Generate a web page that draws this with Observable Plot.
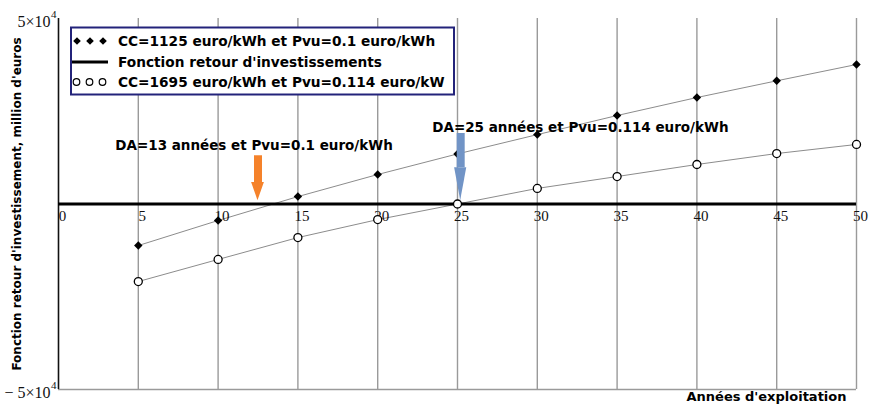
<!DOCTYPE html>
<html><head><meta charset="utf-8">
<script src="https://cdn.jsdelivr.net/npm/d3@7"></script>
<script src="https://cdn.jsdelivr.net/npm/@observablehq/plot@0.6"></script>
<style>body{margin:0;background:#fff;}</style>
</head><body><div id="chart"></div>
<script>
// ---- data ----
const years = [5, 10, 15, 20, 25, 30, 35, 40, 45, 50];
const series1 = [-11200, -4450, 2000, 7950, 13500, 18700, 23850, 28700, 33200, 37600];
const series2 = [-20900, -14950, -9050, -4200, 0, 4200, 7400, 10650, 13600, 16050];
const legendLabels = [
  "CC=1125 euro/kWh et Pvu=0.1 euro/kWh",
  "Fonction retour d'investissements",
  "CC=1695 euro/kWh et Pvu=0.114 euro/kW"
];
const xTicks = [0, 5, 10, 15, 20, 25, 30, 35, 40, 45, 50];
const yTicks = [-50000, 50000];
const yTickLabels = ["\u2212 5\u00d710", "5\u00d710"];
const yTickExponent = "4";
const returnLine = [0, 50];
const annotationTexts = ["DA=13 années et Pvu=0.1 euro/kWh", "DA=25 années et Pvu=0.114 euro/kWh"];
const annotationX = [12.25, 32.7];
const annotationY = [15800, 20600];
const arrowX = [12.5, 25.2];
const arrowTop = [13000, 19000];
const arrowHeadBase = [5800, 9800];
const arrowTip = [900, 900];
const arrowHalfWidth = [0.4, 0.38];
const xLabel = "Années d'exploitation";
const yLabel = "Fonction retour d'investissement, million d'euros";

// ---- styles ----
const arrowColors = ["#f5822a", "#7194c6"];
const sans = "DejaVu Sans";
const serif = "Liberation Serif";

const s1 = years.map((x, i) => ({x, y: series1[i]}));
const s2 = years.map((x, i) => ({x, y: series2[i]}));
const annotations = annotationTexts.map((t, i) => ({t, x: annotationX[i], y: annotationY[i]}));
const arrows = arrowX.map((x, i) => ({x, top: arrowTop[i], base: arrowHeadBase[i], tip: arrowTip[i], hw: arrowHalfWidth[i], color: arrowColors[i]}));
const yTickRows = yTicks.map((v, i) => ({v, t: yTickLabels[i]}));

const arrowMarks = arrows.flatMap(a => [
  Plot.ruleX([a], {x: "x", y1: "top", y2: "base", stroke: a.color, strokeWidth: 8}),
  Plot.areaX([{y: a.base, x1: a.x - a.hw, x2: a.x + a.hw}, {y: a.tip, x1: a.x, x2: a.x}],
    {y: "y", x1: "x1", x2: "x2", fill: a.color})
]);

const plot = Plot.plot({
  width: 871, height: 408,
  marginLeft: 58, marginRight: 15, marginTop: 18, marginBottom: 19,
  style: {background: "#fff", fontFamily: sans},
  x: {domain: [0, 50], axis: null},
  y: {domain: [-50000, 50000], axis: null},
  marks: [
    Plot.ruleX(xTicks.filter(d => d > 0), {y1: -50000, y2: 50000, stroke: "#9a9a9a", strokeWidth: 1.4}),
    Plot.ruleY([-50000], {x1: 0, x2: 50, stroke: "#9a9a9a", strokeWidth: 1.6}),
    Plot.ruleX([0], {y1: -50000, y2: 50000, stroke: "#111", strokeWidth: 1.6}),
    Plot.line(s1, {x: "x", y: "y", stroke: "#8c8c8c", strokeWidth: 1}),
    Plot.line(s2, {x: "x", y: "y", stroke: "#8c8c8c", strokeWidth: 1}),
    Plot.ruleY([0], {x1: returnLine[0], x2: returnLine[1], stroke: "#000", strokeWidth: 3}),
    Plot.text(xTicks, {x: d => d, y: 0, dy: 12, dx: 4, text: d => String(d), fontFamily: serif, fontSize: 15, fill: "#111"}),
    Plot.dot(s1, {x: "x", y: "y", symbol: "diamond2", r: 3.8, fill: "#000"}),
    Plot.dot(s2, {x: "x", y: "y", r: 4, fill: "#fff", stroke: "#000", strokeWidth: 1.3}),
    ...arrowMarks,
    Plot.text(annotations, {x: "x", y: "y", text: "t", fontFamily: sans, fontWeight: "bold", fontSize: 13.5, fill: "#000"}),
    // y tick labels (mantissa) and exponent
    Plot.text(yTickRows, {x: 0, y: "v", text: "t", dx: -8, dy: 3, textAnchor: "end", fontFamily: serif, fontSize: 16, fill: "#111"}),
    Plot.text(yTickRows, {x: 0, y: "v", text: () => yTickExponent, dx: -7.5, dy: -4, textAnchor: "start", fontFamily: serif, fontSize: 11, fill: "#111"}),
    Plot.text([yLabel], {frameAnchor: "left", rotate: -90, dx: -41, textAnchor: "middle", text: d => d, fontFamily: sans, fontWeight: "bold", fontSize: 12, fill: "#000"}),
    Plot.text([xLabel], {frameAnchor: "bottom-right", dx: -10, dy: 11, textAnchor: "end", text: d => d, fontFamily: sans, fontWeight: "bold", fontSize: 13, fill: "#000"})
  ]
});

// legend (inside the plot area, top-left)
const svg = d3.select(plot);
const lg = svg.append("g").attr("font-family", sans).attr("font-weight", "bold").attr("font-size", 13.7).attr("text-anchor", "start");
lg.append("rect").attr("x", 71).attr("y", 27.5).attr("width", 383).attr("height", 67)
  .attr("fill", "#fff").attr("stroke", "#23237a").attr("stroke-width", 2);
const rowY = [41, 62, 82];
const symX = [77, 90, 103];
symX.forEach(cx => {
  lg.append("path").attr("d", `M${cx},${rowY[0]-3.8}L${cx+3.8},${rowY[0]}L${cx},${rowY[0]+3.8}L${cx-3.8},${rowY[0]}Z`).attr("fill", "#000");
  lg.append("circle").attr("cx", cx - 0.5).attr("cy", rowY[2]).attr("r", 3.3).attr("fill", "#fff").attr("stroke", "#000").attr("stroke-width", 1.2);
});
lg.append("line").attr("x1", 72).attr("x2", 108).attr("y1", rowY[1]).attr("y2", rowY[1]).attr("stroke", "#000").attr("stroke-width", 3);
legendLabels.forEach((t, i) => {
  lg.append("text").attr("x", 118).attr("y", rowY[i]).attr("dy", "0.36em").attr("fill", "#000").text(t);
});

document.getElementById("chart").appendChild(plot);
</script>
</body></html>
